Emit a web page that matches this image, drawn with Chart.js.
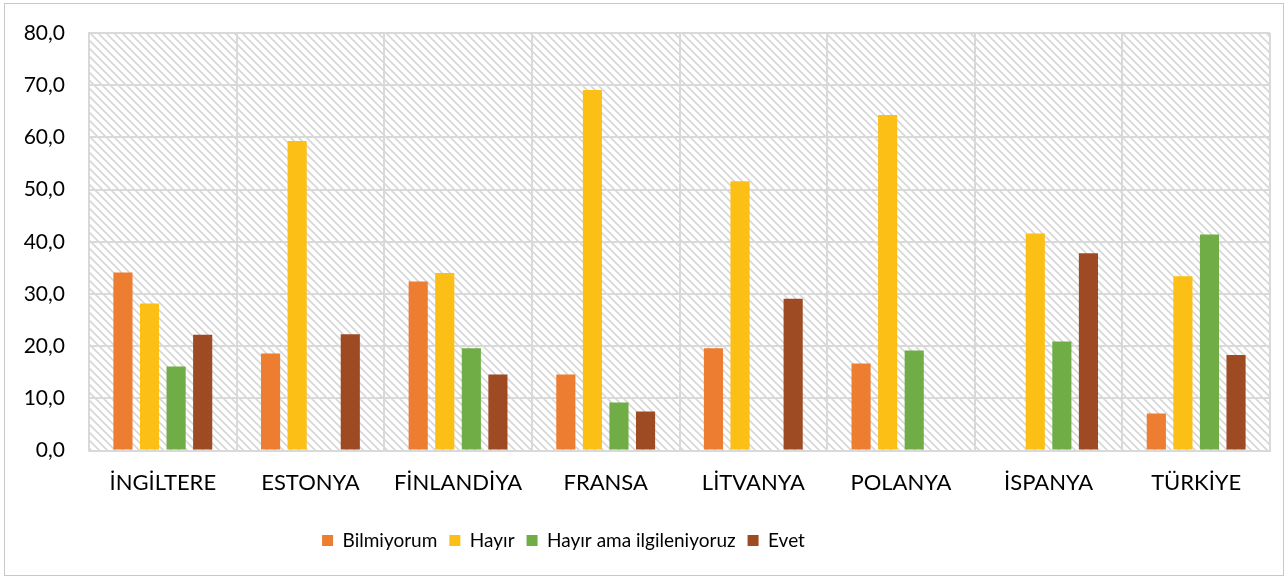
<!DOCTYPE html>
<html>
<head>
<meta charset="utf-8">
<script src="https://cdn.jsdelivr.net/npm/chart.js@4"></script>
<style>
  body { margin: 0; background: #fff; }
  #box { position: absolute; left: 4px; top: 3px; width: 1280px; height: 573px; border: 1px solid #c8c8c8; box-sizing: border-box; }
  #myChart { display: block; }
</style>
</head>
<body>
<div id="box"><canvas id="myChart" width="1278" height="571"></canvas></div>
<script>
const countries = ['İNGİLTERE', 'ESTONYA', 'FİNLANDİYA', 'FRANSA', 'LİTVANYA', 'POLANYA', 'İSPANYA', 'TÜRKİYE'];
const bilmiyorum = [34.1, 18.6, 32.4, 14.6, 19.6, 16.7, null, 7.1];
const hayir = [28.2, 59.3, 34.0, 69.1, 51.6, 64.3, 41.6, 33.4];
const hayirAma = [16.1, null, 19.6, 9.2, null, 19.2, 20.9, 41.4];
const evet = [22.2, 22.3, 14.6, 7.5, 29.1, null, 37.8, 18.3];

// hatched background of the plot area
function makePattern() {
    const c = document.createElement('canvas');
    c.width = 8; c.height = 8;
    const g = c.getContext('2d');
    g.strokeStyle = '#d6d6d6';
    g.lineWidth = 1.6;
    g.beginPath();
    g.moveTo(-2, -2); g.lineTo(10, 10);
    g.moveTo(-2, 6); g.lineTo(2, 10);
    g.moveTo(6, -2); g.lineTo(10, 2);
    g.stroke();
    return g.createPattern(c, 'repeat');
}

const hatch = {
    id: 'hatch',
    beforeDraw(chart) {
        const a = chart.chartArea;
        const ctx = chart.ctx;
        ctx.save();
        ctx.fillStyle = makePattern();
        ctx.fillRect(a.left, a.top, a.right - a.left, a.bottom - a.top);
        ctx.restore();
    }
};

// the legend sits a bit left of centre in the original
const legendShift = {
    id: 'legendShift',
    afterLayout(chart) {
        chart.legend.left -= 83;
        chart.legend.right -= 83;
    }
};

const font = "Lato, 'Open Sans', sans-serif";
const ctx = document.getElementById('myChart').getContext('2d');
const myChart = new Chart(ctx, {
    type: 'bar',
    data: {
        labels: countries,
        datasets: [
            { label: 'Bilmiyorum', data: bilmiyorum, backgroundColor: '#ed7d31' },
            { label: 'Hayır', data: hayir, backgroundColor: '#fbbf16' },
            { label: 'Hayır ama ilgileniyoruz', data: hayirAma, backgroundColor: '#70ad47' },
            { label: 'Evet', data: evet, backgroundColor: '#9e4a23' }
        ]
    },
    options: {
        responsive: false,
        animation: false,
        devicePixelRatio: 1,
        layout: { padding: { left: 18, right: 13, top: 29, bottom: 15 } },
        datasets: { bar: { categoryPercentage: 0.72, barPercentage: 0.72 } },
        scales: {
            x: {
                grid: { color: '#d9d9d9', lineWidth: 2, drawTicks: false },
                border: { color: '#d9d9d9', width: 2 },
                afterFit(scale) { scale.height += 4; },
                ticks: { color: '#000', font: { family: font, size: 22 }, padding: 19, maxRotation: 0 }
            },
            y: {
                min: 0, max: 80,
                grid: { color: '#d9d9d9', lineWidth: 2, tickLength: 20, tickColor: 'rgba(0,0,0,0)' },
                border: { color: '#d9d9d9', width: 2 },
                afterFit(scale) { scale.width = 66; },
                ticks: {
                    stepSize: 10, color: '#000', padding: 4,
                    font: { family: font, size: 21 },
                    callback: v => v.toFixed(1).replace('.', ',')
                }
            }
        },
        plugins: {
            legend: {
                position: 'bottom',
                labels: { boxWidth: 11, boxHeight: 11, padding: 12, color: '#000', font: { family: font, size: 19 } }
            },
            tooltip: { enabled: false }
        }
    },
    plugins: [hatch, legendShift]
});
</script>
</body>
</html>
